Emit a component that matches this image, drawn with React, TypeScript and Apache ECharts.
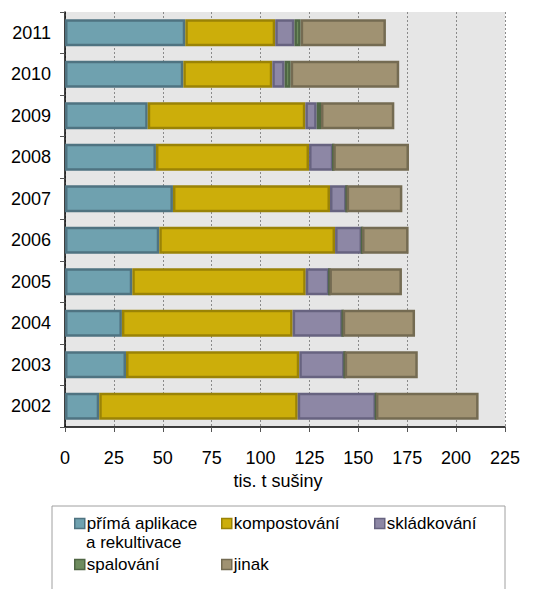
import React, { useEffect, useRef } from "react";
import * as echarts from "echarts";

const years = ["2002", "2003", "2004", "2005", "2006", "2007", "2008", "2009", "2010", "2011"];
const primaAplikace = [17.5, 31.2, 29.1, 34.4, 48.2, 55.2, 46.5, 42.3, 60.5, 61.5];
const kompostovani = [101.5, 88.6, 87.3, 88.7, 89.9, 80.3, 78.3, 80.6, 45.5, 46.0];
const skladkovani = [40.0, 23.2, 25.6, 12.1, 13.8, 8.5, 12.4, 5.8, 6.3, 9.8];
const spalovani = [0, 0, 0, 0, 0, 0, 0, 2.2, 3.1, 3.2];
const jinak = [52.5, 37.4, 37.0, 37.1, 23.8, 28.5, 38.7, 37.5, 55.5, 43.6];
const xTicks = [0, 25, 50, 75, 100, 125, 150, 175, 200, 225];

const seriesDefs = [
  { name: "přímá aplikace", data: primaAplikace, fill: "#6FA1AF", stroke: "#4F7381" },
  { name: "kompostování", data: kompostovani, fill: "#CCAE0A", stroke: "#9A8306" },
  { name: "skládkování", data: skladkovani, fill: "#8D87A5", stroke: "#676380" },
  { name: "spalování", data: spalovani, fill: "#6E8C5E", stroke: "#4F6644" },
  { name: "jinak", data: jinak, fill: "#A09272", stroke: "#746B52" },
];

const legendPos = [
  { left: 74, top: 515 },
  { left: 221, top: 515 },
  { left: 374, top: 515 },
  { left: 74, top: 556 },
  { left: 221, top: 556 },
];

const FONT = "'Liberation Sans', Arial, sans-serif";

export default function App() {
  const ref = useRef<HTMLDivElement>(null);
  useEffect(() => {
    if (!ref.current) return;
    const chart = echarts.init(ref.current, undefined, { renderer: "svg" });
    chart.setOption({
      animation: false,
      textStyle: { fontFamily: FONT },
      grid: {
        left: 65,
        right: 44,
        top: 12,
        bottom: 162,
        show: true,
        backgroundColor: "#E6E6E6",
        borderWidth: 0,
      },
      xAxis: {
        type: "value",
        min: xTicks[0],
        max: xTicks[xTicks.length - 1],
        interval: 25,
        name: "tis. t sušiny",
        nameLocation: "middle",
        nameGap: 44,
        nameTextStyle: { color: "#000", fontSize: 18, fontFamily: FONT, padding: [0, 14, 0, 0] },
        axisLine: { show: true, lineStyle: { color: "#000", width: 1.5 } },
        axisTick: { show: true, length: 5, lineStyle: { color: "#555" } },
        axisLabel: { color: "#000", fontSize: 18, margin: 22, fontFamily: FONT },
        splitLine: { show: true, lineStyle: { color: "#8A8A8A", width: 1, type: [2, 2] } },
      },
      yAxis: {
        type: "category",
        data: years,
        axisLine: { show: true, lineStyle: { color: "#000", width: 1.5 } },
        axisTick: { show: true, length: 5, lineStyle: { color: "#555" } },
        axisLabel: { color: "#000", fontSize: 18, margin: 14, fontFamily: FONT },
        splitLine: { show: false },
      },
      legend: seriesDefs.map((s, i) => ({
        data: [{ name: s.name, itemStyle: { color: s.fill, borderColor: s.stroke, borderWidth: 1.5 } }],
        left: legendPos[i].left,
        top: legendPos[i].top,
        icon: "rect",
        itemWidth: 10,
        itemHeight: 10,
        padding: 0,
        selectedMode: false,
        textStyle: { color: "#000", fontSize: 17, fontFamily: FONT, padding: [0, 0, 0, -3] },
      })),
      graphic: [
        {
          type: "rect",
          shape: { x: 52, y: 506, width: 453, height: 120 },
          style: { fill: "none", stroke: "#A0A0A0", lineWidth: 1 },
          silent: true,
        },
        {
          type: "text",
          left: 86,
          top: 534,
          style: { text: "a rekultivace", fill: "#000", font: `17px ${FONT}` },
          silent: true,
        },
      ],
      series: seriesDefs.map((s) => ({
        name: s.name,
        type: "bar",
        stack: "total",
        data: s.data,
        barWidth: 27,
        itemStyle: { color: s.fill, borderColor: s.stroke, borderWidth: 2.5 },
      })),
    });
    return () => chart.dispose();
  }, []);
  return (
    <div
      ref={ref}
      style={{ position: "fixed", left: 0, top: 0, width: 549, height: 589, background: "#fff" }}
    />
  );
}
